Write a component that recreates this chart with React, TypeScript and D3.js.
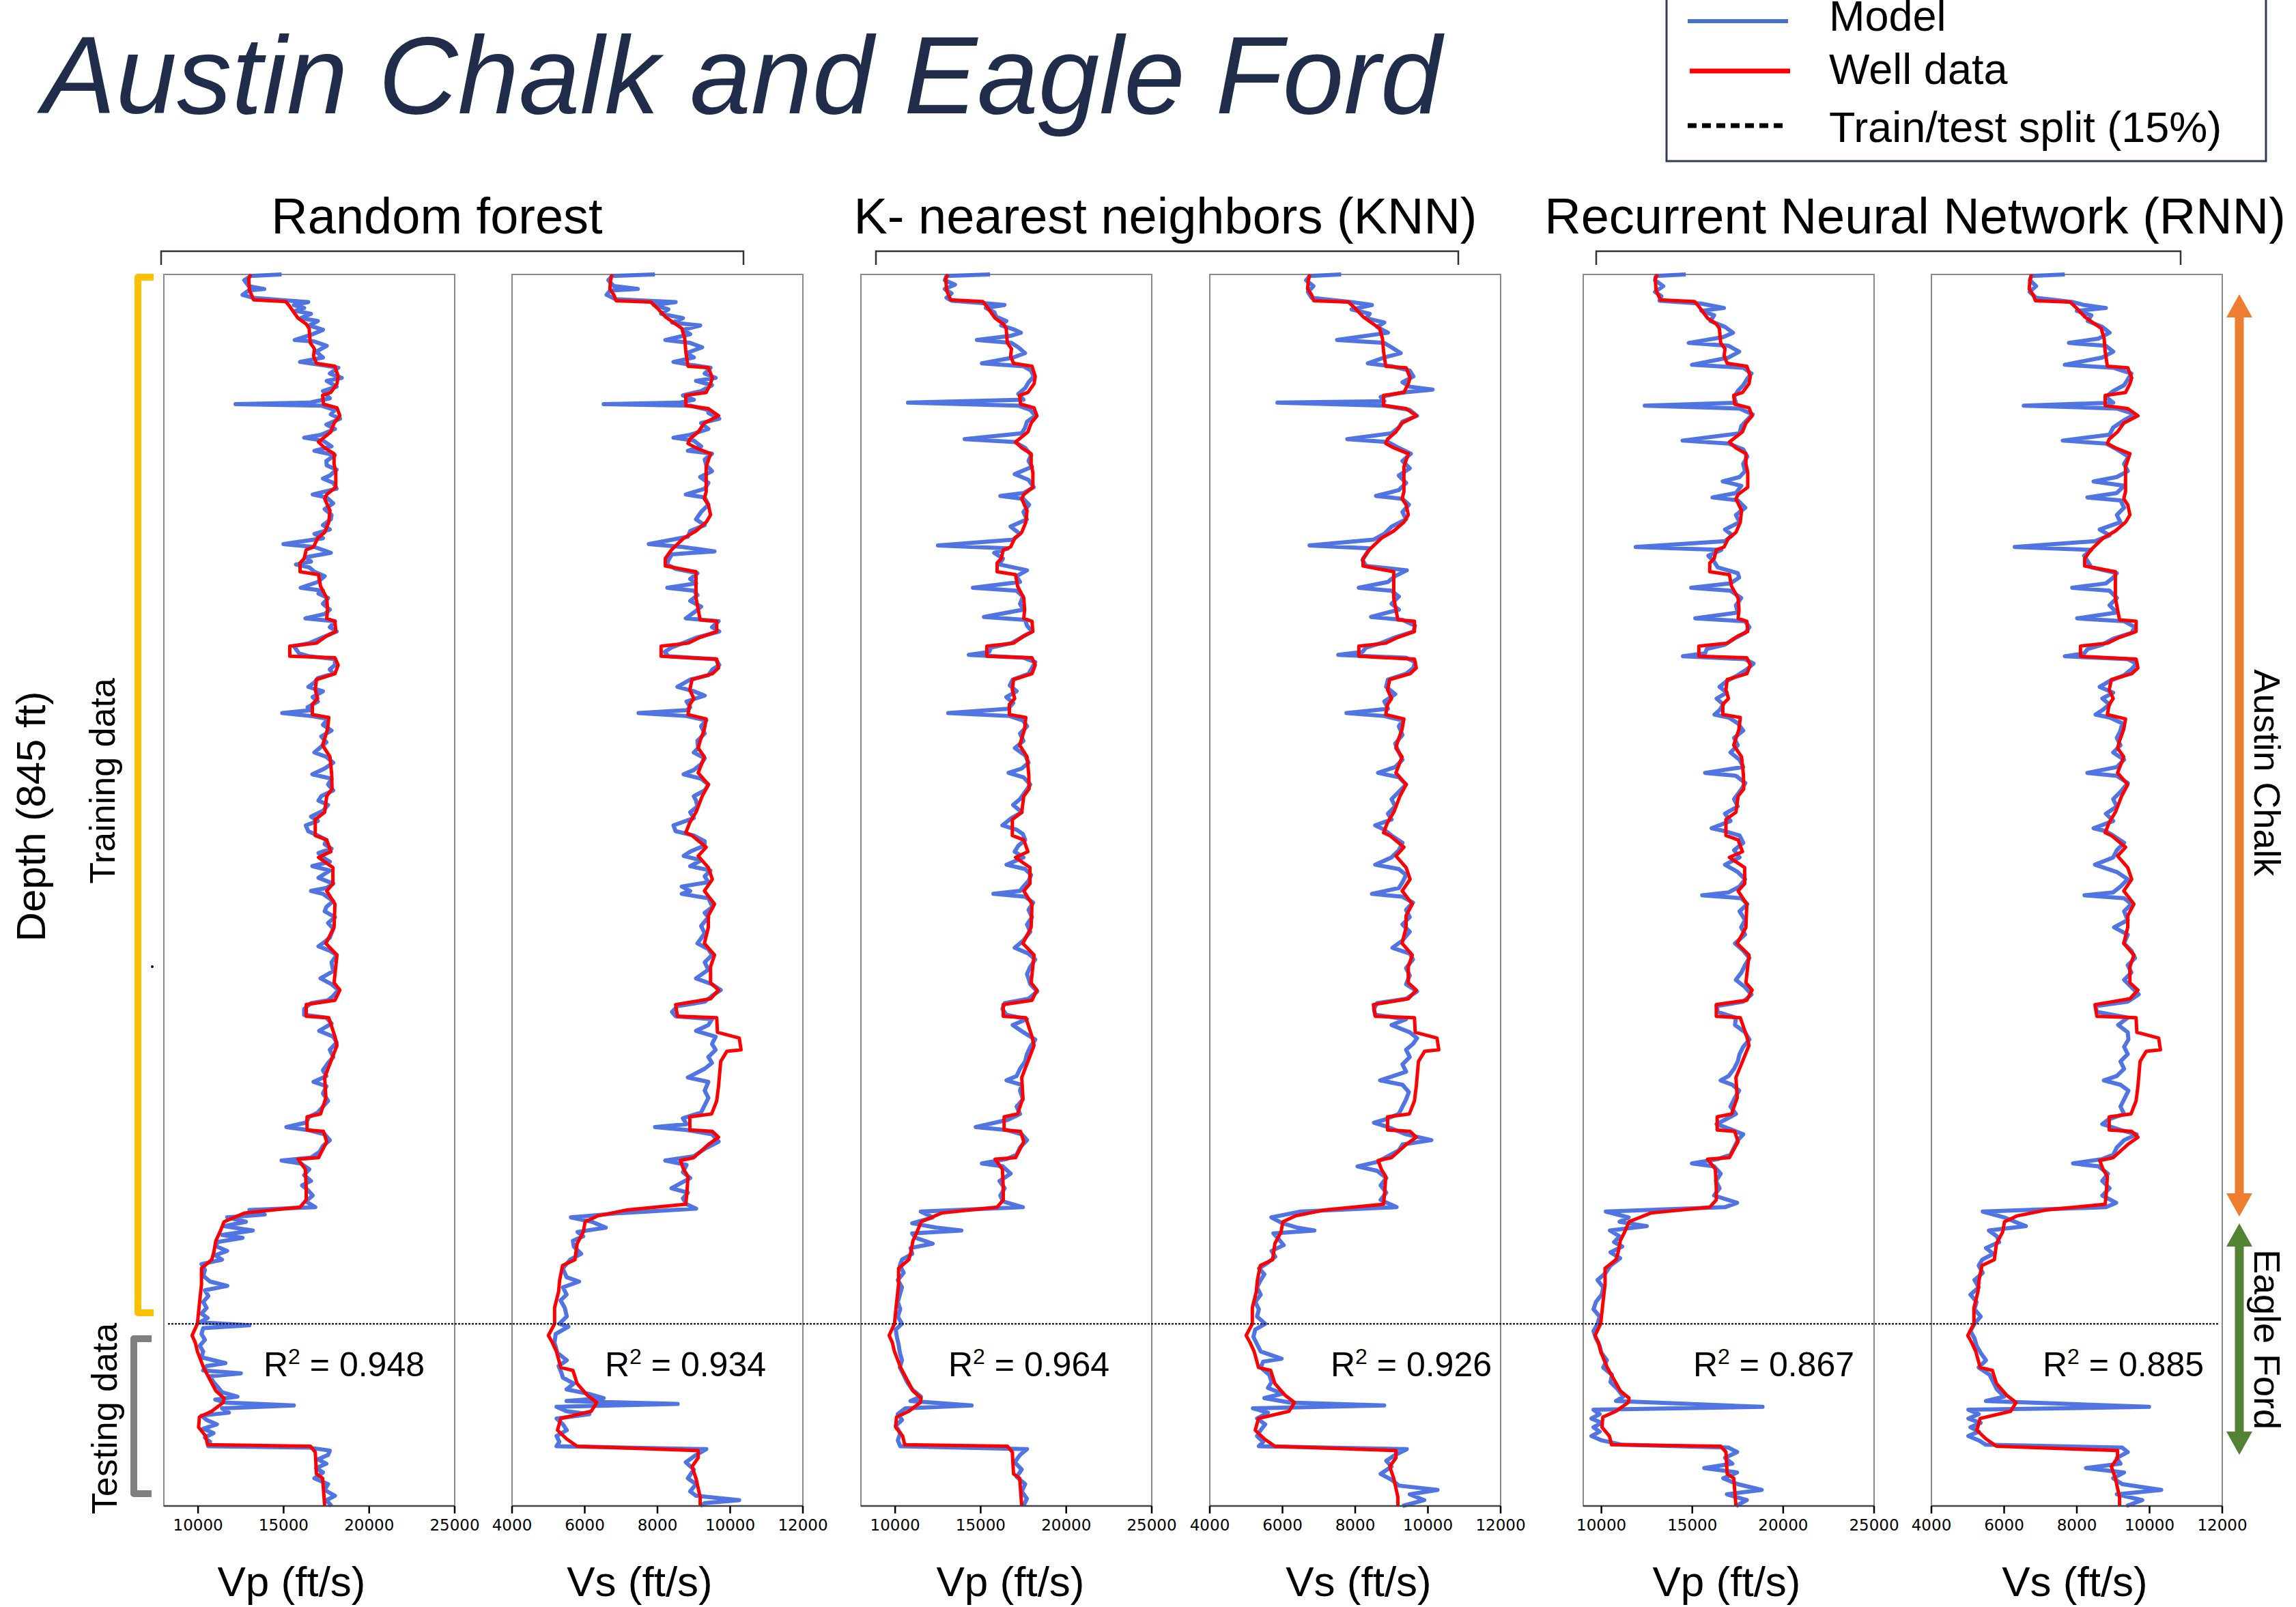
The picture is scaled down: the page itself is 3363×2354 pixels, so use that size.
import { scaleLinear, line } from "d3";

type Pt = [number, number]; // [depth (ft from top), velocity (ft/s)]

const DEPTH_FT = 845;
const SPLIT_FT = 720;

const METHODS = ["Random forest", "K- nearest neighbors (KNN)", "Recurrent Neural Network (RNN)"];
const R2 = ["0.948", "0.934", "0.964", "0.926", "0.867", "0.885"];
const VP_TICKS = [10000, 15000, 20000, 25000];
const VS_TICKS = [4000, 6000, 8000, 10000, 12000];
const DOMAINS: [number, number][] = [[8000, 25000], [4000, 12000], [8000, 25000], [4000, 12000], [9000, 25000], [4000, 12000]];

// well data (red), same log in every panel of a kind
const WELL_VP: Pt[] = [[0,13080],[3,12960],[11,13010],[17.5,13250],[18.6,15120],[22,15360],[26,15600],[30,15840],[34,16320],[37,16490],[47,16560],[51,16800],[56,16750],[61,16920],[63,18000],[70,18190],[75,18120],[81,17760],[83,17280],[89,17330],[91.5,18120],[97,18290],[102,17950],[108,17760],[115,17040],[119,17400],[123,17950],[130,17950],[136,18050],[146,18050],[151,17520],[154,17400],[162,17710],[170,17640],[177,17400],[181,16990],[187,16750],[189,16320],[195,16200],[198,15960],[204,15960],[206,17040],[214,17160],[222,17520],[230,17570],[236,17520],[238,18000],[245,18050],[248,17520],[253,16920],[255,15360],[262,15360],[263,18000],[268,18190],[274,18000],[278,16920],[285,16850],[291,16990],[295,16680],[302,16680],[304,17640],[312,17570],[323,17280],[331,17710],[343,17810],[353,17830],[358,17520],[369,17400],[374,16850],[385,16850],[388,17520],[396,17760],[400,17040],[407,17880],[418,17880],[423,17520],[432,18000],[448,17950],[459,17470],[467,18120],[486,17950],[491,18290],[498,18000],[501,16320],[509,16320],[510,17640],[523,18000],[529,18120],[540,17760],[551,17400],[565,17470],[576,17160],[578,16370],[587,16370],[588,17330],[595,17520],[606,17040],[607,15840],[614,16270],[627,16320],[635,16320],[640,15960],[644,12720],[647,12120],[650,11520],[657,11280],[663,11040],[671,10920],[676,10800],[682,10200],[693,10200],[706,10080],[720,9960],[728,9650],[733,9840],[739,9960],[750,10320],[758,10680],[766,11040],[771,11520],[774,11470],[780,10800],[784,10080],[791,10030],[797,10440],[803,10560],[804,16560],[808,16850],[823,16920],[826,17280],[845,17400]];

const WELL_VS: Pt[] = [[0,6750],[4,6710],[10,6690],[14,6800],[18,6860],[19,7820],[23,7990],[29,8215],[33,8440],[37,8670],[44,8750],[53,8780],[63,8840],[64,9400],[71,9510],[75,9460],[81,9340],[83,8780],[90,8780],[92,9400],[97,9680],[102,9290],[108,9120],[113,8890],[116,8840],[119,9060],[123,9460],[132,9340],[149,9340],[154,9290],[158,9400],[165,9460],[170,9340],[176,9060],[181,8720],[189,8385],[195,8215],[200,8215],[204,9060],[222,9060],[230,9120],[237,9175],[238,9630],[245,9630],[249,9175],[253,8840],[255,8100],[262,8100],[264,9630],[270,9680],[274,9510],[278,8950],[285,8890],[291,9000],[295,8890],[302,8840],[305,9340],[312,9290],[320,9175],[325,9120],[331,9290],[342,9120],[350,9400],[358,9230],[369,9060],[376,8890],[383,8780],[385,8950],[393,9340],[399,9120],[407,9400],[415,9510],[423,9290],[432,9570],[440,9400],[448,9400],[459,9290],[467,9570],[475,9460],[486,9460],[491,9680],[497,9460],[501,8500],[509,8550],[510,9630],[520,9650],[524,10250],[532,10300],[533,9910],[540,9740],[557,9680],[567,9630],[576,9490],[578,8890],[587,8890],[588,9510],[592,9680],[597,9400],[606,9000],[608,8630],[614,8720],[619,8840],[630,8810],[638,8780],[642,7140],[646,6350],[650,6010],[657,5960],[665,5790],[676,5730],[680,5390],[690,5310],[698,5280],[709,5170],[720,5170],[728,5000],[733,5110],[739,5220],[750,5340],[752,5675],[761,5790],[769,6070],[774,6330],[780,6180],[785,5340],[793,5250],[799,5500],[804,5790],[807,9120],[812,9120],[818,8950],[826,9060],[839,9175],[845,9175]];

// model predictions (blue)
const RF_VP: Pt[] = [[0,14880],[1,13080],[4,12700],[8,12960],[10,13870],[11,12960],[14,12600],[16,13200],[18,15360],[19,16440],[21,15600],[23,16200],[25,15700],[27,16600],[30,16000],[32,17000],[35,16500],[38,17300],[41,16700],[45,15650],[46,16800],[49,17520],[53,16900],[57,17300],[60,15960],[62,17100],[64,18200],[68,17700],[71,18400],[73,17520],[77,18100],[80,17300],[85,17700],[88,16500],[89,12190],[90,17200],[93,18000],[96,17760],[99,18300],[103,17500],[106,18000],[110,17200],[112,16200],[114,17300],[118,17800],[121,16800],[124,18000],[128,17500],[131,17520],[134,18100],[138,17700],[140,17300],[143,17900],[147,18100],[151,16700],[153,17500],[157,17900],[161,17400],[165,17800],[168,17760],[172,17300],[175,17700],[178,16800],[181,17300],[185,14990],[187,16800],[191,17760],[194,16300],[197,16600],[199,15720],[201,16500],[204,16800],[207,17400],[211,17000],[215,16000],[217,17300],[219,17040],[222,17600],[226,17300],[230,17700],[233,17400],[236,16270],[238,18000],[242,17700],[245,18100],[249,17300],[253,16500],[255,15600],[257,15720],[260,15900],[262,16500],[264,18000],[268,18000],[271,17700],[274,17900],[277,17000],[280,16800],[283,16450],[286,17300],[290,16700],[293,17000],[297,16400],[299,16600],[301,14920],[303,16600],[305,17600],[309,17300],[313,17800],[317,17200],[321,17500],[325,17100],[328,16800],[331,17500],[335,17900],[339,17400],[343,16680],[346,17800],[350,17600],[354,17900],[358,17200],[361,17040],[364,17600],[368,17300],[372,16600],[375,17000],[378,16300],[382,16440],[385,17000],[388,17500],[391,17400],[394,17800],[397,17040],[400,17300],[403,17700],[406,16680],[409,17700],[414,17040],[418,17900],[421,17500],[423,16600],[425,17300],[430,17900],[434,17500],[437,17400],[441,18000],[445,17600],[449,17900],[455,17700],[458,17400],[461,17040],[464,17700],[467,18100],[472,17800],[478,17900],[483,17160],[487,17800],[491,18200],[495,17900],[498,17600],[500,16600],[504,16200],[508,16200],[510,17500],[514,17800],[519,17080],[523,17900],[527,18100],[532,17700],[537,17900],[541,17600],[546,17300],[550,17500],[554,16750],[557,17500],[562,17300],[567,17600],[571,17300],[575,17000],[578,16500],[582,16300],[585,15160],[587,16400],[590,17400],[594,17700],[598,17300],[602,17100],[606,16600],[608,14880],[610,16000],[614,16500],[618,16200],[622,16600],[625,16080],[628,16400],[632,16700],[636,16300],[640,16850],[642,13000],[645,13900],[647,11700],[650,12800],[653,11500],[656,13200],[659,11400],[661,12600],[664,11100],[667,11100],[670,11700],[673,11000],[676,11400],[679,10200],[683,10400],[687,10300],[691,10700],[694,11710],[697,10400],[701,10600],[705,10300],[709,10500],[713,10200],[716,10560],[719,10100],[721,13000],[723,10300],[727,10200],[731,10400],[735,10100],[739,10300],[743,10200],[747,11600],[749,10500],[752,10300],[754,12500],[756,10700],[760,10900],[764,11200],[767,11400],[770,12300],[772,11000],[774,11600],[776,15600],[778,11400],[781,11800],[783,10200],[786,10500],[789,11100],[792,10300],[795,10900],[798,10400],[801,10700],[804,10600],[805,16500],[807,17700],[810,17600],[813,17000],[816,17500],[819,16900],[822,17300],[826,16800],[830,17600],[834,17400],[838,18000],[841,17500],[845,17800]];

const RF_VS: Pt[] = [[0,7930],[1,6750],[4,6650],[8,6800],[10,7460],[11,6700],[14,6600],[17,6850],[19,8500],[21,7900],[24,8300],[27,8100],[30,8700],[33,8400],[35,9175],[38,8700],[41,8900],[45,8215],[47,8900],[50,9230],[54,8800],[57,9000],[60,8440],[62,8900],[64,9460],[68,9300],[71,9600],[73,9060],[76,9500],[80,9200],[83,8700],[86,9000],[88,8600],[89,6520],[90,8900],[93,9400],[95,9400],[99,9700],[102,9200],[106,9400],[110,8900],[112,8440],[114,9000],[118,9200],[121,8836],[123,9500],[127,9300],[131,9344],[135,9500],[139,9175],[143,9400],[147,9300],[151,8780],[153,9300],[158,9400],[163,9200],[168,9060],[172,9300],[176,8900],[180,8836],[185,7760],[187,8700],[190,9570],[192,8400],[196,8300],[199,8270],[202,8500],[205,9100],[209,8900],[212,9062],[215,8270],[217,9000],[220,9100],[224,8900],[228,9200],[232,9000],[236,8780],[238,9683],[242,9500],[245,9700],[249,9100],[253,8700],[256,8385],[259,8200],[262,8300],[264,9600],[268,9700],[271,9514],[275,9400],[278,8900],[283,8550],[286,9000],[289,9300],[293,8800],[297,8900],[299,8800],[301,7480],[303,8800],[306,9344],[310,9200],[315,9300],[320,9100],[325,9118],[328,9000],[332,9300],[336,9200],[340,9000],[343,8720],[346,9200],[350,9400],[354,9300],[358,9000],[361,9062],[365,9100],[369,8900],[373,9000],[378,8441],[382,8498],[385,9000],[389,9300],[392,9288],[396,8900],[399,8723],[402,9200],[406,8900],[409,9457],[413,9300],[417,9400],[420,8667],[423,8900],[425,8667],[428,9400],[434,9514],[438,9300],[441,9400],[447,9200],[452,9300],[459,9100],[463,9400],[467,9500],[472,9300],[477,9400],[483,9062],[487,9500],[491,9739],[495,9500],[499,9300],[502,8554],[506,8400],[509,8500],[511,9500],[515,9400],[519,9062],[523,9600],[528,9500],[532,9600],[537,9400],[541,9500],[545,9300],[551,8836],[554,9400],[560,9300],[565,9401],[570,9300],[575,9200],[579,8700],[583,8800],[585,7933],[587,8800],[590,9500],[595,9683],[600,9300],[605,9000],[608,8215],[611,8800],[616,8700],[620,8900],[627,8385],[630,8836],[634,8700],[638,8800],[641,9062],[644,7000],[647,5619],[650,6200],[654,6578],[657,5800],[660,5957],[663,5675],[667,5700],[672,5901],[676,5600],[682,5393],[688,5500],[691,5844],[695,5400],[700,5500],[704,5336],[709,5450],[715,5506],[720,5300],[722,5550],[727,5200],[733,5167],[740,5250],[745,5506],[749,5280],[753,5350],[757,5400],[761,5700],[765,5500],[768,6100],[771,6522],[773,5500],[775,8554],[777,5224],[780,5500],[782,6127],[785,5224],[789,5400],[793,5506],[797,5224],[801,5300],[804,5224],[806,9344],[810,9062],[815,8780],[820,9000],[826,8836],[830,9062],[835,8900],[838,9062],[841,10247],[843,9300],[845,9175]];

const KNN_VP: Pt[] = [[0,15550],[1,13000],[4,12900],[7,13500],[10,12900],[13,13300],[16,13000],[18,13300],[20,15500],[21,16390],[23,15300],[26,15800],[29,15910],[32,16500],[35,16200],[38,17000],[40,17350],[42,16800],[45,14780],[47,16800],[50,17200],[54,17590],[57,16900],[61,15070],[63,17500],[66,17947],[70,18100],[74,17800],[78,17600],[82,17200],[86,17500],[88,10756],[90,17200],[93,17900],[97,18200],[101,17710],[105,17600],[109,17400],[113,14064],[115,17000],[119,17600],[124,17947],[128,17800],[132,18000],[137,16990],[141,17800],[146,18100],[150,17500],[152,16150],[154,17500],[158,17830],[163,17500],[168,17700],[173,16750],[178,17300],[182,16900],[186,12506],[188,16600],[191,15790],[195,16300],[199,16100],[203,17710],[207,17100],[211,17300],[215,14544],[217,17100],[221,17470],[226,17300],[230,17500],[235,15190],[237,17600],[241,17710],[245,18000],[249,17400],[253,16800],[256,15600],[259,15500],[261,14304],[263,17500],[266,18190],[270,18000],[274,17800],[278,16870],[282,16700],[286,17100],[290,16500],[294,16900],[298,16600],[301,13105],[303,16700],[306,17470],[310,17710],[315,17300],[320,17500],[325,17000],[330,17600],[335,17800],[339,17400],[342,16630],[345,17500],[350,17900],[355,17600],[360,17300],[364,16900],[369,17400],[373,16800],[378,16270],[381,17100],[384,17470],[388,17600],[392,17200],[396,16990],[400,17500],[405,16510],[408,17600],[412,17947],[416,17800],[420,17500],[423,17300],[425,15742],[427,17600],[431,18067],[436,17800],[441,18000],[446,17710],[451,17900],[457,17500],[462,16990],[466,17800],[470,18190],[475,17900],[480,17710],[487,17900],[492,18307],[497,17800],[500,16400],[504,16270],[508,16500],[511,17700],[515,16870],[520,17500],[525,18190],[530,17900],[535,17700],[540,17600],[545,17300],[550,17100],[553,16510],[556,17400],[560,17300],[566,17470],[571,17100],[576,17300],[580,16600],[585,14710],[587,16500],[590,17400],[594,17710],[599,17300],[604,17100],[607,16500],[610,15070],[612,16300],[617,16750],[622,16100],[627,16400],[632,16150],[636,16300],[640,17470],[643,11500],[647,12200],[651,11000],[654,12400],[656,13873],[658,10996],[661,11200],[665,12195],[668,10900],[672,11000],[676,10400],[680,10277],[685,10500],[690,10157],[695,10400],[700,10277],[705,10157],[710,10300],[715,10157],[720,10397],[724,10037],[729,10100],[734,10200],[740,10277],[745,10400],[750,10277],[755,10500],[760,10700],[765,10996],[770,11500],[773,10900],[776,14472],[778,10600],[782,10157],[786,10400],[790,10037],[795,10300],[800,10157],[804,10300],[806,17710],[810,17300],[815,16990],[820,17400],[825,17100],[830,17600],[835,17400],[840,17700],[845,17500]];

const KNN_VS: Pt[] = [[0,7613],[1,6750],[4,6650],[8,6850],[12,6700],[16,6800],[19,7900],[21,8460],[24,7900],[27,8400],[30,8300],[33,8800],[36,8600],[40,8900],[45,7500],[47,8800],[50,9000],[54,9250],[57,8800],[61,8347],[63,9000],[66,9500],[70,9600],[74,9300],[77,9500],[79,10130],[81,9300],[84,8700],[87,8800],[88,5862],[90,8800],[93,9500],[97,9700],[101,9300],[105,9200],[109,9000],[113,7782],[115,8900],[119,9200],[123,9532],[128,9300],[133,9500],[138,9200],[143,9400],[148,9200],[152,8572],[154,9300],[158,9476],[163,9300],[168,9400],[173,9000],[178,8800],[182,8500],[186,6743],[188,8400],[192,8300],[196,8200],[200,8300],[203,9419],[207,9100],[211,8900],[215,8098],[217,9000],[221,9200],[226,9000],[230,9200],[235,8437],[237,9300],[241,9645],[245,9600],[249,9100],[253,8700],[256,8300],[259,8200],[261,7534],[263,9400],[266,9645],[270,9600],[274,9400],[278,8900],[283,8850],[288,9100],[293,8800],[298,8900],[301,7760],[303,8800],[306,9306],[310,9200],[316,9300],[322,9100],[328,9200],[333,9300],[338,9100],[342,8629],[345,9200],[350,9400],[355,9200],[360,9000],[365,9100],[370,8900],[374,9000],[378,8550],[381,8800],[385,9000],[390,9300],[395,9200],[400,9000],[405,8550],[408,9200],[412,9400],[417,9300],[421,9200],[425,8460],[427,9300],[431,9588],[436,9400],[441,9500],[446,9300],[451,9500],[457,9300],[462,9024],[466,9500],[470,9588],[476,9400],[481,9500],[487,9400],[492,9701],[497,9400],[500,8600],[504,8516],[508,8550],[511,9400],[515,9000],[520,9500],[524,9700],[528,9588],[532,9400],[537,9500],[542,9300],[547,9400],[553,8685],[556,9300],[561,9476],[566,9400],[571,9300],[576,9200],[580,8800],[582,8516],[585,8900],[590,9400],[594,10096],[597,9300],[601,9200],[605,8900],[609,8600],[612,8064],[615,8600],[620,8855],[625,8700],[630,8855],[635,8700],[640,9137],[643,6500],[647,5693],[651,6000],[654,6400],[656,6879],[658,5750],[662,5900],[666,6032],[670,5700],[674,5800],[678,5600],[682,5355],[686,5500],[690,5400],[695,5300],[700,5400],[705,5250],[710,5350],[715,5300],[720,5524],[724,5250],[729,5200],[734,5300],[739,5400],[744,5976],[746,5468],[750,5400],[755,5637],[760,5700],[764,5600],[768,6000],[771,5500],[774,6200],[776,8798],[778,5185],[781,5600],[785,5300],[789,5524],[793,5400],[797,5300],[801,5468],[804,5350],[806,9419],[810,9100],[814,8855],[818,9000],[823,8700],[827,9000],[831,9200],[834,10266],[837,9500],[841,9900],[845,9300]];

const RNN_VP: Pt[] = [[0,14642],[1,13000],[4,12950],[8,13400],[12,12950],[15,13300],[18,13200],[20,15500],[23,16741],[25,15500],[28,16200],[32,16000],[36,16800],[40,17238],[43,16700],[47,14800],[49,17000],[53,17576],[57,17000],[62,14981],[64,17800],[68,18254],[72,18000],[76,17800],[80,17500],[84,17300],[88,17400],[90,12385],[92,17600],[96,18321],[100,18000],[104,17700],[109,17600],[114,14462],[116,17000],[120,17800],[125,18028],[130,17800],[135,17900],[139,17600],[142,16674],[145,17700],[150,17400],[153,16110],[155,17500],[160,17915],[165,17400],[170,17600],[175,16800],[179,17200],[183,16800],[187,11889],[189,16600],[193,15884],[197,16200],[201,16400],[205,17500],[208,17576],[212,17100],[215,14936],[217,17100],[222,17689],[227,17400],[232,17500],[236,15161],[238,17900],[242,18141],[246,17900],[250,17300],[254,16800],[257,15800],[260,15700],[262,14485],[264,17900],[267,18366],[271,18000],[275,17500],[279,16899],[283,16500],[287,16900],[291,16335],[295,16700],[299,16500],[302,16222],[304,17000],[308,17500],[313,17802],[318,17300],[323,17500],[328,17100],[333,17600],[338,17800],[342,15703],[344,17400],[349,17915],[355,17600],[360,17300],[365,17500],[370,16800],[375,17100],[380,16064],[382,16800],[385,17600],[390,17802],[395,17300],[400,17600],[405,16800],[410,17500],[415,17900],[420,17600],[424,17000],[426,15545],[428,17700],[432,18028],[437,17600],[443,17900],[448,17689],[453,17900],[459,17351],[464,17800],[469,18141],[474,17900],[479,17700],[484,17400],[489,17900],[494,18254],[499,17800],[502,16335],[506,16400],[510,17400],[515,17351],[520,17900],[525,18141],[530,17800],[535,17600],[540,17500],[545,17300],[550,17000],[553,16561],[556,17200],[560,17576],[566,17300],[571,17100],[576,17400],[580,16800],[583,16335],[586,17000],[590,17802],[594,17500],[599,17300],[604,17100],[607,16400],[610,14981],[612,16200],[617,16561],[622,16300],[627,16500],[632,16200],[637,17464],[640,16800],[643,10241],[647,11500],[650,11000],[653,12498],[656,10467],[660,11000],[664,10700],[667,11144],[671,10500],[675,11031],[680,10500],[685,10241],[690,9790],[695,10100],[700,10016],[705,9700],[710,9564],[715,9903],[720,9790],[725,9564],[730,9700],[735,9903],[740,10000],[745,10300],[750,10100],[755,10580],[760,10500],[765,10900],[770,11200],[773,10800],[777,18863],[779,9564],[782,9903],[785,9451],[788,10016],[791,9564],[794,9903],[797,9451],[800,10016],[803,11144],[805,17000],[808,17464],[812,16800],[816,17200],[819,15658],[822,17464],[826,16700],[830,17500],[834,18818],[837,16900],[841,18000],[845,17400]];

const RNN_VS: Pt[] = [[0,7669],[1,6750],[4,6710],[8,6879],[12,6700],[16,6879],[19,7900],[21,8200],[23,8798],[25,8000],[28,8400],[32,8300],[36,8700],[40,8900],[44,8600],[47,7782],[49,8800],[53,9000],[57,8700],[62,7669],[64,9000],[68,9500],[72,9400],[76,9300],[80,9000],[84,8800],[88,9000],[90,6540],[92,9100],[96,9600],[100,9300],[105,9000],[110,8900],[114,7613],[116,8800],[120,9100],[125,9419],[130,9300],[135,9400],[139,9100],[142,8460],[145,9300],[150,9100],[153,8290],[155,9200],[160,9300],[165,9100],[170,9200],[175,8629],[179,8900],[183,8500],[187,6292],[189,8400],[193,8200],[197,8300],[201,8400],[205,9100],[208,9000],[212,8800],[215,7872],[217,8900],[222,9100],[227,8900],[232,9100],[236,8008],[238,9300],[242,9600],[246,9500],[250,9000],[254,8700],[257,8300],[260,8200],[262,7669],[264,9400],[267,9645],[271,9500],[275,9300],[279,8900],[283,8629],[287,9000],[291,8700],[295,8900],[299,8700],[302,8516],[304,8900],[308,9250],[313,9200],[318,9100],[323,9200],[328,9000],[333,9300],[338,9100],[342,8290],[344,9100],[349,9400],[355,9200],[360,9000],[365,9100],[370,8800],[375,9000],[380,8460],[382,8800],[385,9000],[390,9300],[395,9100],[400,9000],[405,8500],[410,9100],[415,9400],[420,9200],[424,9000],[426,8211],[428,9300],[432,9500],[437,9300],[443,9400],[448,9024],[453,9400],[459,9300],[464,9500],[469,9600],[474,9400],[479,9500],[484,9300],[489,9500],[494,9700],[499,9400],[502,8516],[506,8550],[510,9400],[515,9137],[520,9400],[525,9419],[530,9300],[535,9400],[540,9200],[545,9300],[550,9100],[553,8742],[556,9200],[560,9419],[566,9300],[571,9200],[576,9300],[580,8855],[583,8700],[587,9200],[590,9645],[594,9300],[599,9100],[604,9000],[607,8700],[610,7895],[612,8600],[617,8855],[622,8700],[627,8900],[632,8700],[637,9081],[640,8800],[643,5411],[647,6000],[650,6300],[653,6597],[656,5581],[660,5800],[664,5862],[668,5500],[672,5700],[676,5400],[680,5300],[685,5411],[690,5185],[695,5300],[700,5073],[705,5242],[710,5185],[715,5355],[720,5185],[725,5073],[730,5185],[735,5242],[740,5355],[745,5500],[750,5300],[755,5600],[760,5700],[765,5800],[770,6000],[773,5500],[777,9984],[779,5016],[782,5300],[785,5016],[788,5355],[791,5073],[794,5300],[797,5016],[800,5300],[803,5500],[805,9250],[808,9400],[812,9100],[816,9200],[819,8250],[822,9300],[826,9000],[830,9250],[834,10322],[837,9100],[841,9800],[845,9363]];

const MODELS = [RF_VP, RF_VS, KNN_VP, KNN_VS, RNN_VP, RNN_VS];

// layout (px)
const W = 3363, H = 2354;
const TOP = 402, BOT = 2206, PW = 426;
const PANEL_X = [240, 750, 1261, 1772, 2319, 2829];
const XLABEL_CX = [427, 937, 1480, 1990, 2529, 3039];
const R2_X = [386, 886, 1389, 1949, 2480, 2992];
const GROUP_CX = [640, 1707, 2805];
const BRACKET_X = [[236, 1089], [1283, 2136], [2338, 3194]];
const SANS = "'Liberation Sans', Arial, sans-serif";
const TICKF = "'DejaVu Sans', sans-serif";
const BLUE = "#4169E1", RED = "#FF0000";

const sy = scaleLinear().domain([0, DEPTH_FT]).range([TOP, BOT]);

function Panel({ i }: { i: number }) {
  const x0 = PANEL_X[i];
  const isVp = i % 2 === 0;
  const sx = scaleLinear().domain(DOMAINS[i]).range([x0, x0 + PW]);
  const path = line<Pt>().x(d => sx(d[1])).y(d => sy(d[0]));
  const ticks = isVp ? VP_TICKS : VS_TICKS;
  return (
    <g>
      <rect x={x0} y={TOP} width={PW} height={BOT - TOP} fill="none" stroke="#8a8a8a" strokeWidth={2}/>
      <path d={path(MODELS[i]) ?? ""} fill="none" stroke={BLUE} strokeWidth={6} strokeOpacity={0.92} strokeLinejoin="round"/>
      <path d={path(isVp ? WELL_VP : WELL_VS) ?? ""} fill="none" stroke={RED} strokeWidth={5} strokeLinejoin="round"/>
      <line x1={x0} x2={x0 + PW} y1={BOT} y2={BOT} stroke="#444" strokeWidth={2.5}/>
      {ticks.map(t => (
        <g key={t} transform={`translate(${sx(t)},${BOT})`}>
          <line y2={11} stroke="#000" strokeWidth={2.5}/>
          <text y={36} textAnchor="middle" fontSize={23} fontFamily={TICKF}>{t}</text>
        </g>
      ))}
      <text x={XLABEL_CX[i]} y={2338} textAnchor="middle" fontSize={62} fontFamily={SANS}>{isVp ? "Vp (ft/s)" : "Vs (ft/s)"}</text>
      <text x={R2_X[i]} y={2016} fontSize={50} fontFamily={SANS}>
        R<tspan fontSize={32} dy={-18}>2</tspan><tspan dy={18}>{` = ${R2[i]}`}</tspan>
      </text>
    </g>
  );
}

function DoubleArrow({ cx, y1, y2, fill }: { cx: number; y1: number; y2: number; fill: string }) {
  const hw = 19, sw = 6.5, hl = 34;
  const pts = [
    [cx, y1], [cx + hw, y1 + hl], [cx + sw, y1 + hl], [cx + sw, y2 - hl], [cx + hw, y2 - hl],
    [cx, y2], [cx - hw, y2 - hl], [cx - sw, y2 - hl], [cx - sw, y1 + hl], [cx - hw, y1 + hl],
  ];
  return <polygon points={pts.map(p => p.join(",")).join(" ")} fill={fill}/>;
}

export default function App() {
  const splitY = sy(SPLIT_FT);
  return (
    <svg width={W} height={H} viewBox={`0 0 ${W} ${H}`}
      style={{ position: "absolute", left: 0, top: 0, background: "#fff" }}>
      <rect width={W} height={H} fill="#fff"/>
      <text x={62} y={166} fontSize={161} fontStyle="italic" fill="#1F2D4B" fontFamily={SANS}>Austin Chalk and Eagle Ford</text>

      {/* legend, its top edge runs off the picture as in the source slide */}
      <rect x={2441} y={-10} width={878} height={246} fill="#fff" stroke="#2F3B55" strokeWidth={3}/>
      <line x1={2472} x2={2619} y1={31} y2={31} stroke="#4472C4" strokeWidth={6}/>
      <line x1={2475} x2={2622} y1={104} y2={104} stroke={RED} strokeWidth={7}/>
      <line x1={2472} x2={2618} y1={184} y2={184} stroke="#000" strokeWidth={7} strokeDasharray="13 8"/>
      <text x={2679} y={45} fontSize={63} fontFamily={SANS}>Model</text>
      <text x={2679} y={123} fontSize={63} fontFamily={SANS}>Well data</text>
      <text x={2679} y={208} fontSize={63} fontFamily={SANS}>Train/test split (15%)</text>

      {METHODS.map((m, k) => (
        <g key={m}>
          <text x={GROUP_CX[k]} y={342} textAnchor="middle" fontSize={74} fontFamily={SANS}>{m}</text>
          <path d={`M${BRACKET_X[k][0]},388V368H${BRACKET_X[k][1]}V388`} fill="none" stroke="#333" strokeWidth={2.5}/>
        </g>
      ))}

      {PANEL_X.map((_, i) => <Panel key={i} i={i}/>)}

      <line x1={246} x2={3251} y1={splitY} y2={splitY} stroke="#000" strokeWidth={2} strokeDasharray="3 2"/>

      {/* left annotations */}
      <path d="M225,406H202V1923H225" fill="none" stroke="#FFC000" strokeWidth={10} strokeLinejoin="round"/>
      <path d="M222,1961H196V2188H222" fill="none" stroke="#7F7F7F" strokeWidth={10} strokeLinejoin="round"/>
      <text transform="translate(150,1144) rotate(-90)" textAnchor="middle" dominantBaseline="central" fontSize={52} fontFamily={SANS}>Training data</text>
      <text transform="translate(153,2078) rotate(-90)" textAnchor="middle" dominantBaseline="central" fontSize={52} fontFamily={SANS}>Testing data</text>
      <text transform="translate(45,1196) rotate(-90)" textAnchor="middle" dominantBaseline="central" fontSize={60} fontFamily={SANS}>Depth (845 ft)</text>
      <circle cx={223} cy={1416} r={2} fill="#000"/>

      {/* right annotations */}
      <DoubleArrow cx={3280} y1={431} y2={1782} fill="#ED7D31"/>
      <DoubleArrow cx={3280} y1={1792} y2={2131} fill="#548235"/>
      <text transform="translate(3321,1132) rotate(90)" textAnchor="middle" dominantBaseline="central" fontSize={54} fontFamily={SANS}>Austin Chalk</text>
      <text transform="translate(3321,1962) rotate(90)" textAnchor="middle" dominantBaseline="central" fontSize={54} fontFamily={SANS}>Eagle Ford</text>
    </svg>
  );
}
